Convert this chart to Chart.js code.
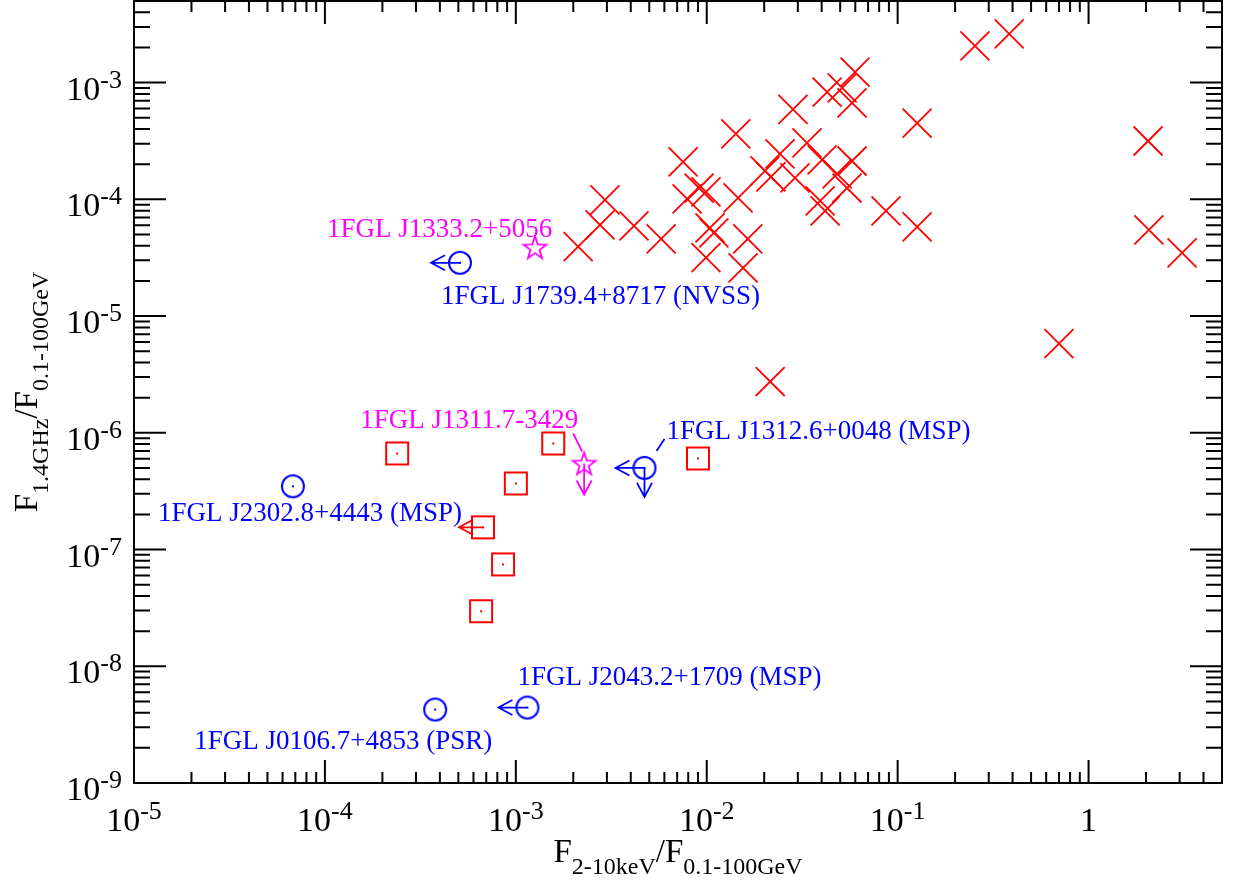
<!DOCTYPE html>
<html>
<head>
<meta charset="utf-8">
<script src="https://cdn.jsdelivr.net/npm/chart.js@4.4.1/dist/chart.umd.min.js"></script>
<style>
  html, body { margin: 0; padding: 0; background: #fff; }
  canvas { display: block; }
</style>
</head>
<body>
<canvas id="plot" width="1235" height="882"></canvas>
<script>
// Flux ratios: radio (1.4 GHz) and X-ray (2-10 keV) over gamma (0.1-100 GeV)

// identified sources (crosses)
const crossX = [0.384, 0.254, 0.0598, 0.0512, 0.0427, 0.0577, 0.0283, 0.0142, 0.1265, 2.05,
                0.0335, 0.0242, 0.0402, 0.0577, 0.00752, 0.0202, 0.0217, 0.0482, 0.029, 0.0543,
                0.00912, 0.00789, 0.0146, 0.0393, 0.0417, 0.0869, 0.00293, 0.00276, 0.00416, 0.0104,
                0.1265, 2.07, 0.00577, 0.0164, 0.00212, 3.09, 0.00991, 0.0155, 0.70, 0.0215,
                0.0109, 0.00991];
const crossY = [2.61e-3, 2.06e-3, 1.23e-3, 9.0e-4, 8.3e-4, 6.7e-4, 5.9e-4, 3.63e-4, 4.5e-4, 3.16e-4,
                3.04e-4, 2.45e-4, 2.18e-4, 2.13e-4, 2.09e-4, 1.75e-4, 1.56e-4, 1.65e-4, 1.53e-4, 1.25e-4,
                1.25e-4, 1.01e-4, 1.03e-4, 9.7e-5, 7.98e-5, 7.98e-5, 9.9e-5, 6.05e-5, 5.93e-5, 5.70e-5,
                5.82e-5, 5.48e-5, 4.59e-5, 4.59e-5, 3.93e-5, 3.48e-5, 3.16e-5, 2.59e-5, 5.81e-6, 2.75e-6,
                5.16e-5, 1.16e-4];

// squares
const squareX = [2.39e-4, 1.57e-3, 1.0e-3, 9.0e-3, 6.73e-4, 8.57e-4, 6.58e-4];
const squareY = [6.65e-7, 8.1e-7, 3.68e-7, 6.03e-7, 1.55e-7, 7.46e-8, 2.96e-8];
const squareLimit = ['', '', '', '', 'left', '', ''];

// stars
const starX = [1.26e-3, 2.28e-3];
const starY = [3.88e-5, 5.46e-7];
const starLimit = ['', 'down'];
const starNames = ['1FGL J1333.2+5056', '1FGL J1311.7-3429'];

// circles
const circleX = [5.1e-4, 6.8e-5, 4.72e-3, 3.78e-4, 1.15e-3];
const circleY = [2.86e-5, 3.48e-7, 5.0e-7, 4.26e-9, 4.43e-9];
const circleLimit = ['left', '', 'left down', '', 'left'];
const circleNames = ['1FGL J1739.4+8717 (NVSS)', '1FGL J2302.8+4443 (MSP)', '1FGL J1312.6+0048 (MSP)',
                     '1FGL J0106.7+4853 (PSR)', '1FGL J2043.2+1709 (MSP)'];

// axis decades
const xDecades = [-5, -4, -3, -2, -1, 0];
const yDecades = [-9, -8, -7, -6, -5, -4, -3];

const RED = '#ff0000', BLUE = '#0000ff', MAGENTA = '#ff00ff';
const SERIF = '"Liberation Serif", "Times New Roman", serif';

function pairs(xs, ys) {
    return xs.map((x, i) => ({ x: x, y: ys[i] }));
}

// open markers drawn once into small canvases
function makeMarker(shape, color) {
    const c = document.createElement('canvas');
    c.width = 30; c.height = 30;
    const g = c.getContext('2d');
    g.strokeStyle = color;
    g.fillStyle = color;
    g.lineWidth = 2;
    g.translate(15, 15);
    if (shape === 'square') {
        g.strokeRect(-11, -11, 22, 22);
        g.fillRect(-1, -1, 2, 2);
    } else if (shape === 'circle') {
        g.beginPath();
        g.arc(0, 0, 11, 0, Math.PI * 2);
        g.stroke();
        g.fillRect(-1, -1, 2, 2);
    } else if (shape === 'star') {
        g.lineWidth = 1.8;
        g.beginPath();
        for (let k = 0; k < 10; k++) {
            const r = k % 2 === 0 ? 12 : 4.8;
            const a = -Math.PI / 2 + k * Math.PI / 5;
            const px = r * Math.cos(a), py = r * Math.sin(a) + 1;
            if (k === 0) g.moveTo(px, py); else g.lineTo(px, py);
        }
        g.closePath();
        g.stroke();
    }
    return c;
}

// label placement relative to each marker (pixels)
const starNoteOffsets = [
    { dx: -208, dy: -10 },
    { dx: -224, dy: -35, lead: [-11, -30, -2, -12] }
];
const circleNoteOffsets = [
    { dx: -19, dy: 41 },
    { dx: -135, dy: 35 },
    { dx: 22, dy: -29, lead: [12, -17, 20, -29] },
    { dx: -241, dy: 39 },
    { dx: -10, dy: -23 }
];

function drawArrow(g, x, y, dir, len) {
    g.beginPath();
    if (dir === 'left') {
        g.moveTo(x, y); g.lineTo(x - len, y);
        g.moveTo(x - len + 14, y - 7.5); g.lineTo(x - len, y); g.lineTo(x - len + 14, y + 7.5);
    } else if (dir === 'down') {
        g.moveTo(x, y); g.lineTo(x, y + len);
        g.moveTo(x - 7.5, y + len - 14); g.lineTo(x, y + len); g.lineTo(x + 7.5, y + len - 14);
    }
    g.stroke();
}

function drawLimits(chart, dsIndex, limits, color, len) {
    const g = chart.ctx;
    const meta = chart.getDatasetMeta(dsIndex);
    g.save();
    g.strokeStyle = color;
    g.lineWidth = 1.8;
    limits.forEach((lim, i) => {
        if (!lim) return;
        const pt = meta.data[i];
        lim.split(' ').forEach(dir => drawArrow(g, pt.x, pt.y, dir, len));
    });
    g.restore();
}

function drawNotes(chart, dsIndex, names, offsets, color) {
    const g = chart.ctx;
    const meta = chart.getDatasetMeta(dsIndex);
    g.save();
    g.fillStyle = color;
    g.strokeStyle = color;
    g.lineWidth = 1.8;
    g.font = '27px ' + SERIF;
    g.textBaseline = 'alphabetic';
    g.textAlign = 'left';
    names.forEach((name, i) => {
        const pt = meta.data[i];
        const o = offsets[i];
        g.fillText(name, pt.x + o.dx, pt.y + o.dy);
        if (o.lead) {
            g.beginPath();
            g.moveTo(pt.x + o.lead[0], pt.y + o.lead[1]);
            g.lineTo(pt.x + o.lead[2], pt.y + o.lead[3]);
            g.stroke();
        }
    });
    g.restore();
}

// "10" with a superscript exponent
function powerLabel(g, exp, x, y, align) {
    if (exp === 0) {
        g.font = '34px ' + SERIF;
        const w = g.measureText('1').width;
        const sx = align === 'center' ? x - w / 2 : x - w;
        g.fillText('1', sx, y);
        return;
    }
    g.font = '34px ' + SERIF;
    const wMain = g.measureText('10').width;
    g.font = '26px ' + SERIF;
    const sup = String(exp);
    const wSup = g.measureText(sup).width;
    const total = wMain + wSup;
    const sx = align === 'center' ? x - total / 2 : x - total;
    g.font = '34px ' + SERIF;
    g.fillText('10', sx, y);
    g.font = '26px ' + SERIF;
    g.fillText(sup, sx + wMain, y - 12);
}

// text with lowered subscripts, centred at (cx, baseline)
function subscriptText(g, parts, cx, baseline) {
    let total = 0;
    parts.forEach(p => { g.font = p[1] + 'px ' + SERIF; total += g.measureText(p[0]).width; });
    let x = cx - total / 2;
    parts.forEach(p => {
        g.font = p[1] + 'px ' + SERIF;
        g.fillText(p[0], x, baseline + p[2]);
        x += g.measureText(p[0]).width;
    });
}

const framePlugin = {
    id: 'frame',
    afterDatasetsDraw(chart) {
        drawLimits(chart, 1, squareLimit, RED, 24);
        drawLimits(chart, 2, starLimit, MAGENTA, 31);
        drawLimits(chart, 3, circleLimit, BLUE, 29);
        drawNotes(chart, 2, starNames, starNoteOffsets, MAGENTA);
        drawNotes(chart, 3, circleNames, circleNoteOffsets, BLUE);
    },
    afterDraw(chart) {
        const g = chart.ctx;
        const a = chart.chartArea;
        const xs = chart.scales.x, ys = chart.scales.y;
        g.save();
        g.strokeStyle = '#000';
        g.fillStyle = '#000';
        g.lineWidth = 2;
        g.strokeRect(a.left, a.top, a.right - a.left, a.bottom - a.top);

        // inward ticks on all four sides
        g.beginPath();
        xDecades.forEach(d => {
            for (let m = 1; m <= 9; m++) {
                const v = m * Math.pow(10, d);
                if (v > xs.max) break;
                const px = xs.getPixelForValue(v);
                const len = m === 1 ? 23 : 11;
                g.moveTo(px, a.bottom); g.lineTo(px, a.bottom - len);
                g.moveTo(px, a.top); g.lineTo(px, a.top + len);
            }
        });
        yDecades.forEach(d => {
            for (let m = 1; m <= 9; m++) {
                const v = m * Math.pow(10, d);
                if (v > ys.max) break;
                const py = ys.getPixelForValue(v);
                const len = m === 1 ? 32 : 16;
                g.moveTo(a.left, py); g.lineTo(a.left + len, py);
                g.moveTo(a.right, py); g.lineTo(a.right - len, py);
            }
        });
        g.stroke();

        // tick labels
        g.textBaseline = 'alphabetic';
        g.textAlign = 'left';
        xDecades.forEach(d => {
            powerLabel(g, d, xs.getPixelForValue(Math.pow(10, d)), a.bottom + 48, 'center');
        });
        yDecades.forEach(d => {
            powerLabel(g, d, a.left - 12, ys.getPixelForValue(Math.pow(10, d)) + 17, 'right');
        });

        // axis titles
        const midX = (a.left + a.right) / 2;
        subscriptText(g, [['F', 33, 0], ['2-10keV', 24, 11.5], ['/F', 33, 0], ['0.1-100GeV', 24, 11.5]], midX, 862);

        g.translate(36.5, (a.top + a.bottom) / 2);
        g.rotate(-Math.PI / 2);
        subscriptText(g, [['F', 33, 0], ['1.4GHz', 24, 11.5], ['/F', 33, 0], ['0.1-100GeV', 24, 11.5]], 0, 0);
        g.restore();
    }
};

const ctx = document.getElementById('plot').getContext('2d');
const chart = new Chart(ctx, {
    type: 'scatter',
    data: {
        datasets: [
            {
                data: pairs(crossX, crossY),
                pointStyle: 'crossRot',
                pointRadius: 20.5,
                borderColor: RED,
                backgroundColor: RED,
                borderWidth: 1.8
            },
            {
                data: pairs(squareX, squareY),
                pointStyle: makeMarker('square', RED),
                pointRadius: 12
            },
            {
                data: pairs(starX, starY),
                pointStyle: makeMarker('star', MAGENTA),
                pointRadius: 12
            },
            {
                data: pairs(circleX, circleY),
                pointStyle: makeMarker('circle', BLUE),
                pointRadius: 12
            }
        ]
    },
    options: {
        responsive: false,
        animation: false,
        devicePixelRatio: 1,
        layout: { autoPadding: false, padding: { top: 1, right: 13, left: 0, bottom: 0 } },
        plugins: {
            legend: { display: false },
            tooltip: { enabled: false }
        },
        scales: {
            x: {
                type: 'logarithmic',
                min: 1e-5,
                max: 5,
                grid: { display: false },
                border: { display: false },
                ticks: { display: false },
                afterFit(scale) { scale.height = 99; }
            },
            y: {
                type: 'logarithmic',
                min: 1e-9,
                max: 5e-3,
                grid: { display: false },
                border: { display: false },
                ticks: { display: false },
                afterFit(scale) { scale.width = 134; }
            }
        }
    },
    plugins: [framePlugin]
});
</script>
</body>
</html>
